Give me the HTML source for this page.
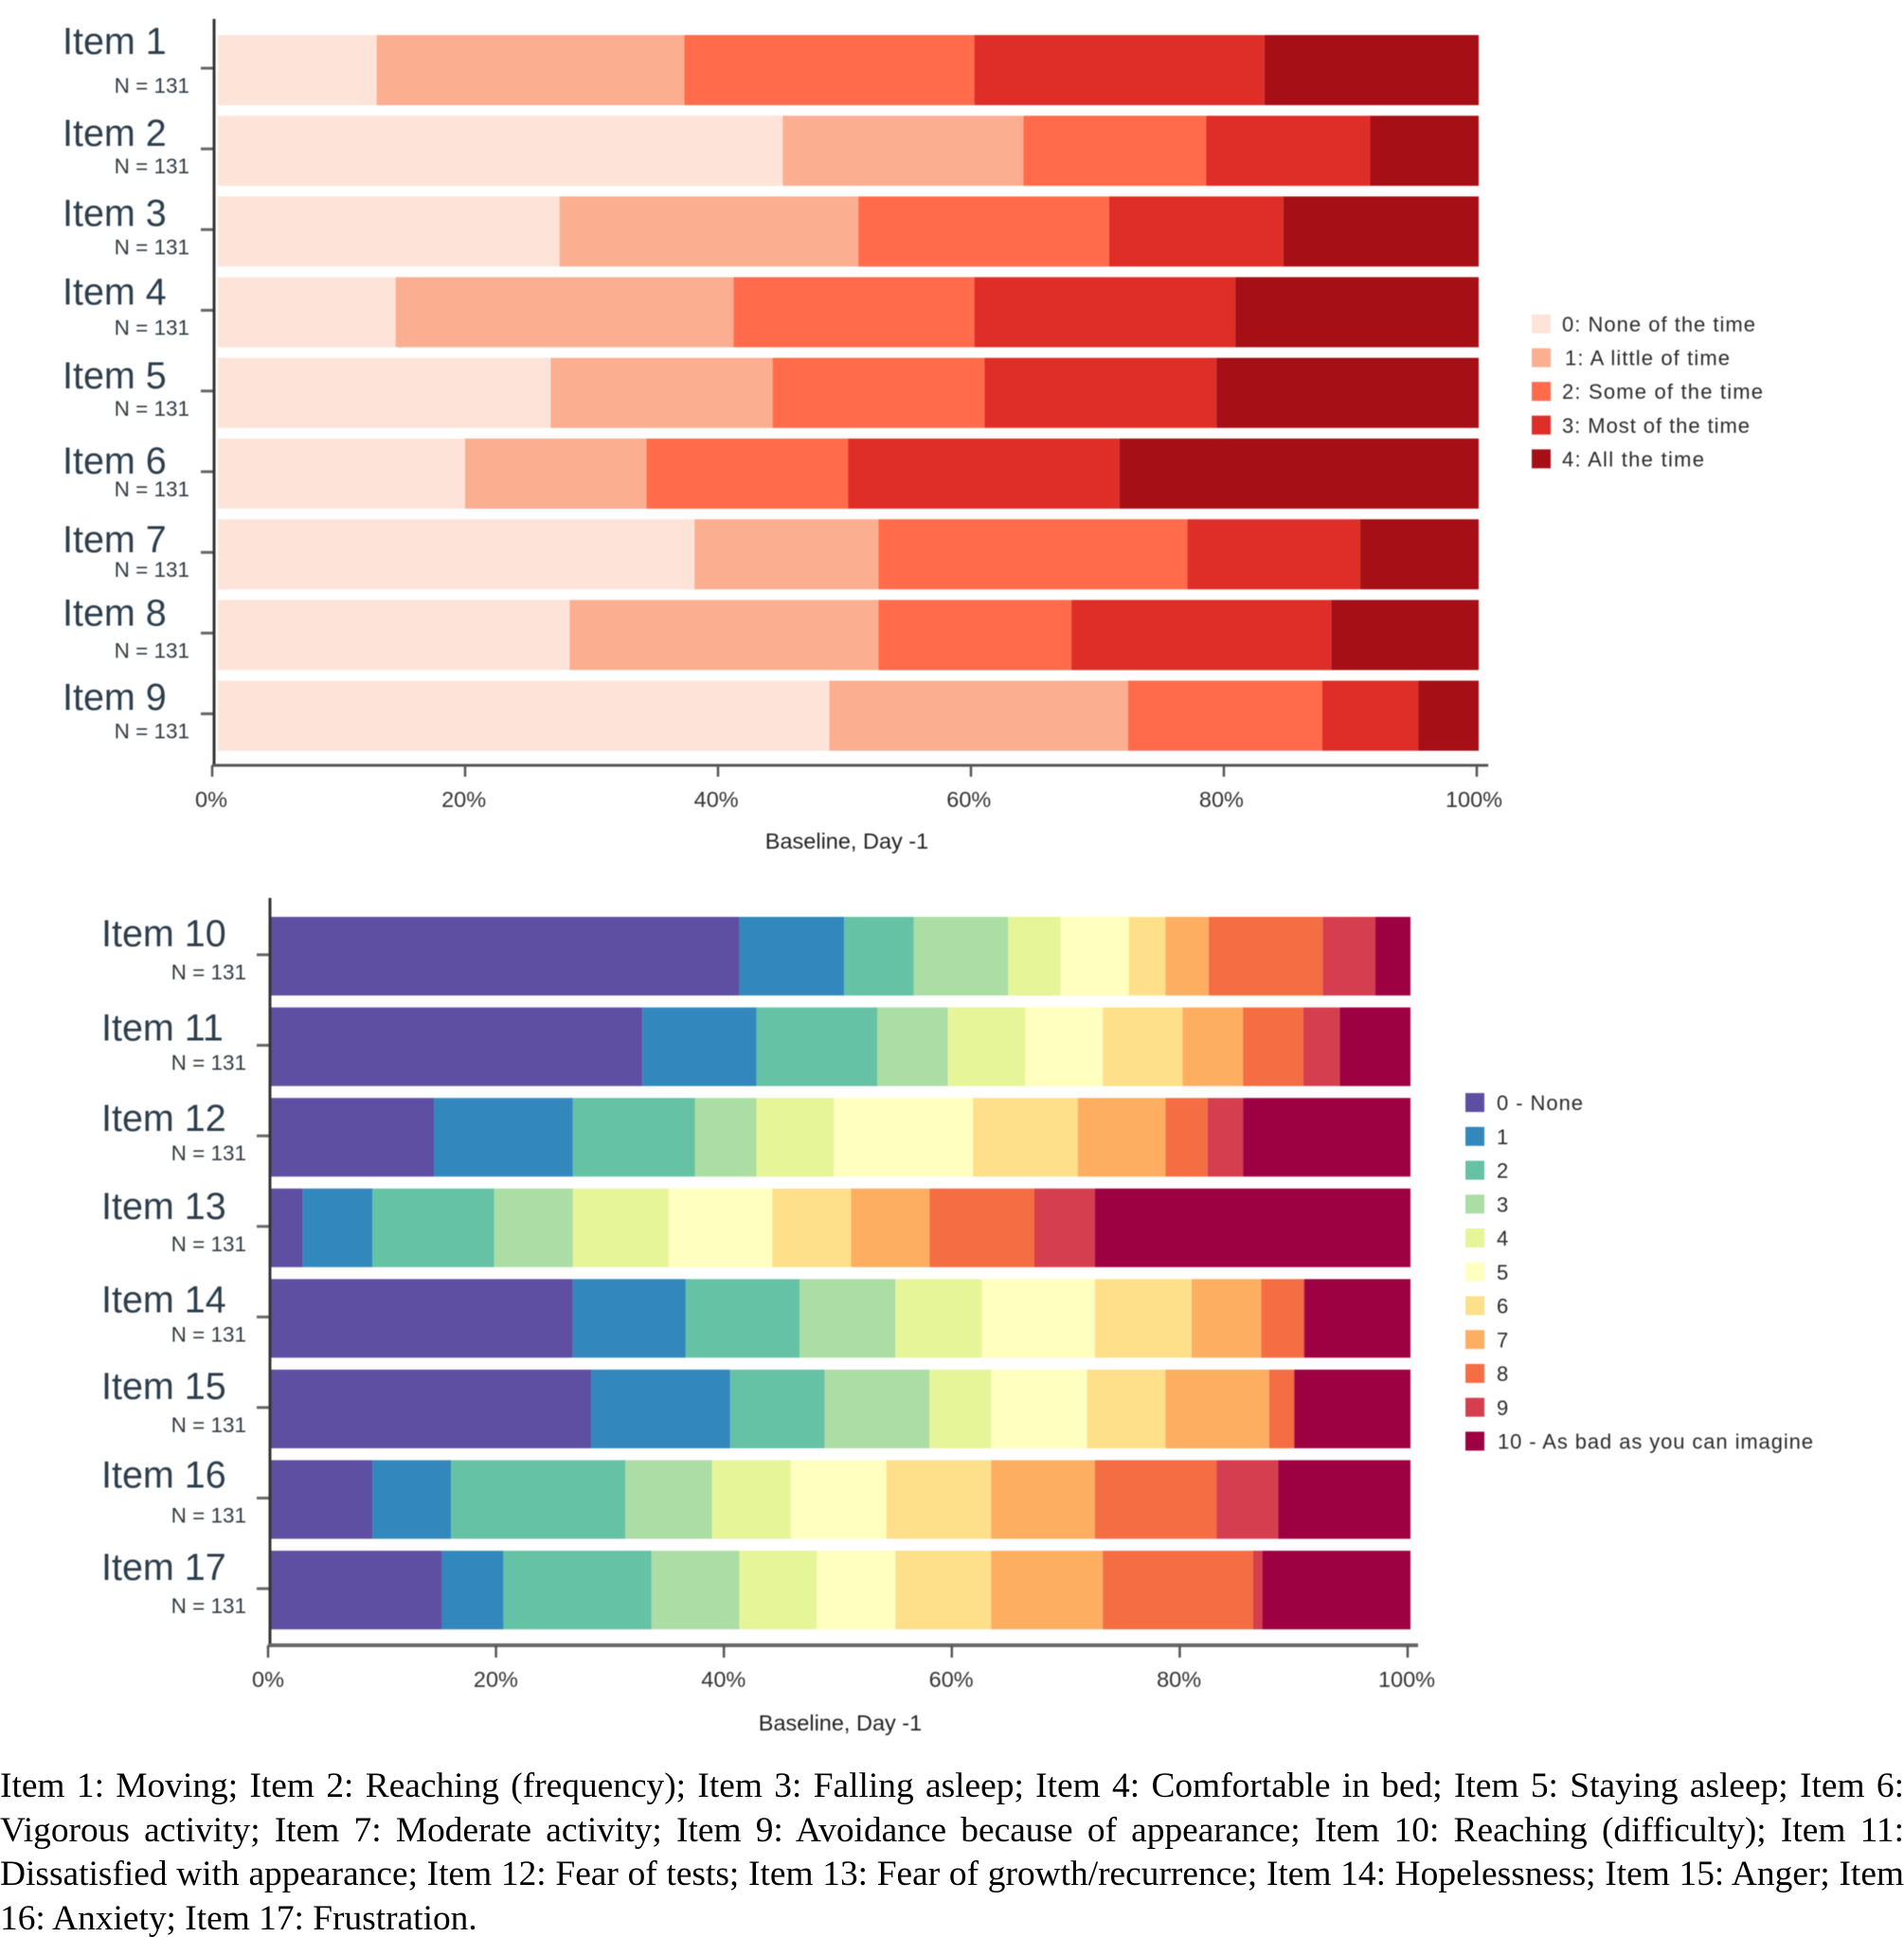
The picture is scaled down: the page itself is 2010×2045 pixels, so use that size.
<!DOCTYPE html>
<html lang="en">
<head>
<meta charset="utf-8">
<title>Baseline item response distributions</title>
<style>
  html, body { margin: 0; padding: 0; background: #fff; }
  #page { position: relative; width: 2010px; height: 2045px; overflow: hidden; background: #fff; }
  #charts { position: absolute; left: 0; top: 0; filter: blur(0.4px); }
  text { font-family: "Liberation Sans", sans-serif; }
  .cap { position: absolute; left: 0; width: 2010px; height: 46px; line-height: 46px; font-family: "Liberation Serif", serif; font-size: 37.4px; color: #000; white-space: nowrap; text-align: justify; text-align-last: justify; }
  .cap.last { text-align: left; text-align-last: left; }
</style>
</head>
<body>
<div id="page">
  <svg id="charts" width="2010" height="1860" viewBox="0 0 2010 1860" xmlns="http://www.w3.org/2000/svg"></svg>
  <div>
    <div class="cap" style="top:1863px">Item 1: Moving; Item 2: Reaching (frequency); Item 3: Falling asleep; Item 4: Comfortable in bed; Item 5: Staying asleep; Item 6:</div>
    <div class="cap" style="top:1910px">Vigorous activity; Item 7: Moderate activity; Item 9: Avoidance because of appearance; Item 10: Reaching (difficulty); Item 11:</div>
    <div class="cap" style="top:1956px">Dissatisfied with appearance; Item 12: Fear of tests; Item 13: Fear of growth/recurrence; Item 14: Hopelessness; Item 15: Anger; Item</div>
    <div class="cap last" style="top:2003px">16: Anxiety; Item 17: Frustration.</div>
  </div>
</div>
<script>
// ---- Data: top chart ----
const topCategories = ["Item 1","Item 2","Item 3","Item 4","Item 5","Item 6","Item 7","Item 8","Item 9"];
const topLegend = ["0: None of the time","1: A little of time","2: Some of the time","3: Most of the time","4: All the time"];
const topItem1 = [12.6,24.4,23.0,23.0,17.0];
const topItem2 = [44.8,19.1,14.5,13.0,8.6];
const topItem3 = [27.1,23.7,19.9,13.8,15.5];
const topItem4 = [14.1,26.8,19.1,20.7,19.3];
const topItem5 = [26.4,17.6,16.8,18.4,20.8];
const topItem6 = [19.6,14.4,16.0,21.5,28.5];
const topItem7 = [37.8,14.6,24.5,13.7,9.4];
const topItem8 = [27.9,24.5,15.3,20.6,11.7];
const topItem9 = [48.5,23.7,15.4,7.6,4.8];
const topValues = [topItem1,topItem2,topItem3,topItem4,topItem5,topItem6,topItem7,topItem8,topItem9];

// ---- Data: bottom chart ----
const bottomCategories = ["Item 10","Item 11","Item 12","Item 13","Item 14","Item 15","Item 16","Item 17"];
const bottomLegend = ["0 - None","1","2","3","4","5","6","7","8","9","10 - As bad as you can imagine"];
const bottomItem10 = [41.1,9.2,6.1,8.3,4.6,6.0,3.2,3.8,10.0,4.6,3.1];
const bottomItem11 = [32.6,10.0,10.6,6.2,6.8,6.8,7.0,5.3,5.3,3.2,6.2];
const bottomItem12 = [14.3,12.2,10.7,5.4,6.8,12.2,9.2,7.7,3.7,3.1,14.7];
const bottomItem13 = [2.8,6.1,10.7,6.9,8.4,9.1,6.9,6.9,9.2,5.3,27.7];
const bottomItem14 = [26.5,9.9,10.0,8.4,7.6,9.9,8.5,6.1,3.7,0.1,9.3];
const bottomItem15 = [28.1,12.2,8.3,9.2,5.4,8.4,6.9,9.1,2.2,0,10.2];
const bottomItem16 = [8.9,6.9,15.3,7.6,6.9,8.4,9.2,9.1,10.7,5.4,11.6];
const bottomItem17 = [15.0,5.4,13.0,7.7,6.8,6.9,8.4,9.8,13.2,0.8,13.0];
const bottomValues = [bottomItem10,bottomItem11,bottomItem12,bottomItem13,bottomItem14,bottomItem15,bottomItem16,bottomItem17];

// ---- Shared labels ----
const tickLabels = ["0%","20%","40%","60%","80%","100%"];
const tickValues = [0,20,40,60,80,100];
const sampleLabel = "N = 131";
const axisTitle = "Baseline, Day -1";

// ---- Styling and layout ----
const topColors = ["#fee4d8","#fcae91","#ff6b4b","#df2e27","#a50f15"];
const bottomColors = ["#5e4fa2","#3288bd","#66c2a5","#abdda4","#e6f598","#ffffbf","#fee08b","#fdae61","#f46d43","#d53e4f","#9e0142"];

const topLayout = {
  barX0: 230, barX1: 1561, tickX0: 224, tickX1: 1559, tickLabelX0: 223, tickLabelX1: 1556,
  bandTop: 37, bandStep: 85.2, bandHeight: 74,
  axisX: 226, axisTop: 20, axisY: 808, axisEnd: 1571, axisWidth: 3, axisColor: "#555",
  tickEnd: 820, tickLabelY: 852, titleX: 894, titleY: 896,
  labelX: 66, labelFont: 39.5, labelNudge: [20,32,31,29,32,37,35,27,31],
  sampleRight: 200, sampleDy: 61, yTickX0: 212, yTickX1: 225, yTickDy: 35,
  legendX: 1617, legendTextX: 1649, legendY: 332, legendStep: 35.6, swatch: 20, legendFont: 22,
  legendWidths: [204,174,212,198,150], legendIndent: [0,3,0,0,0],
  prefix: "top"
};
const bottomLayout = {
  barX0: 286, barX1: 1489, tickX0: 283, tickX1: 1486, tickLabelX0: 283, tickLabelX1: 1485,
  bandTop: 968, bandStep: 95.6, bandHeight: 83,
  axisX: 285, axisTop: 948, axisY: 1737, axisEnd: 1497, axisWidth: 4, axisColor: "#666",
  tickEnd: 1750, tickLabelY: 1781, titleX: 887, titleY: 1827,
  labelX: 107, labelFont: 39.5, labelNudge: [31,35,35,32,35,31,29,31],
  sampleRight: 260, sampleDy: 66, yTickX0: 271, yTickX1: 284, yTickDy: 40,
  legendX: 1547, legendTextX: 1580, legendY: 1154, legendStep: 35.75, swatch: 20, legendFont: 22,
  legendWidths: [91,0,0,0,0,0,0,0,0,0,333], legendIndent: [0,0,0,0,0,0,0,0,0,0,1],
  prefix: "bottom"
};

const svg = document.getElementById("charts");
const NS = "http://www.w3.org/2000/svg";

function mk(tag, attrs, parent) {
  const el = document.createElementNS(NS, tag);
  for (const k in attrs) el.setAttribute(k, attrs[k]);
  parent.appendChild(el);
  return el;
}

function slug(s) {
  return s.toLowerCase().replace(/[^a-z0-9]+/g, "-");
}

function drawChart(cats, values, colors, legend, L) {
  const group = mk("g", {}, svg);
  
  

  const xScale = v => L.barX0 + (v / 100) * (L.barX1 - L.barX0);
  const xTick = v => L.tickX0 + (v / 100) * (L.tickX1 - L.tickX0);
  const xTickLabel = v => L.tickLabelX0 + (v / 100) * (L.tickLabelX1 - L.tickLabelX0);
  const yBand = i => L.bandTop + i * L.bandStep;

  // bars
  cats.forEach((cat, i) => {
    let cum = 0;
    values[i].forEach((v, s) => {
      const x0 = xScale(cum);
      const x1 = xScale(cum + v);
      cum += v;
      const r = mk("rect", {x: x0, y: yBand(i), width: Math.max(0, x1 - x0), height: L.bandHeight, fill: colors[s]}, group);
      
      
    });

    const label = mk("text", {x: L.labelX, y: yBand(i) + L.labelNudge[i], "font-size": L.labelFont, fill: "#2b3d4b"}, group);
    label.textContent = cat;
    
    

    const n = mk("text", {x: L.sampleRight, y: yBand(i) + L.sampleDy, "font-size": 22.5, fill: "#2f3a42", "text-anchor": "end"}, group);
    n.textContent = sampleLabel;
    
    

    const yt = mk("line", {x1: L.yTickX0, x2: L.yTickX1, y1: yBand(i) + L.yTickDy, y2: yBand(i) + L.yTickDy, stroke: "#666", "stroke-width": 3}, group);
    
    
  });

  // axes
  const yAxis = mk("line", {x1: L.axisX, x2: L.axisX, y1: L.axisTop, y2: L.axisY, stroke: "#333", "stroke-width": 3}, group);
  
  

  const xAxis = mk("line", {x1: L.axisX - 2, x2: L.axisEnd, y1: L.axisY, y2: L.axisY, stroke: L.axisColor, "stroke-width": L.axisWidth}, group);
  
  

  tickValues.forEach((t, i) => {
    const tick = mk("line", {x1: xTick(t), x2: xTick(t), y1: L.axisY, y2: L.tickEnd, stroke: "#555", "stroke-width": 2.5}, group);
    
    

    const tl = mk("text", {x: xTickLabel(t), y: L.tickLabelY, "font-size": 23.5, fill: "#333", "text-anchor": "middle"}, group);
    tl.textContent = tickLabels[i];
    
    
  });

  const title = mk("text", {x: L.titleX, y: L.titleY, "font-size": 23.5, fill: "#222", "text-anchor": "middle"}, group);
  title.textContent = axisTitle;
  
  

  // legend
  legend.forEach((name, i) => {
    const y = L.legendY + i * L.legendStep;
    const sw = mk("rect", {x: L.legendX, y: y, width: L.swatch, height: L.swatch, fill: colors[i]}, group);
    
    

    const attrs = {x: L.legendTextX + L.legendIndent[i], y: y + 18, "font-size": L.legendFont, fill: "#2a2a2a"};
    if (L.legendWidths[i]) {
      attrs.textLength = L.legendWidths[i];
      attrs.lengthAdjust = "spacing";
    }
    const lt = mk("text", attrs, group);
    lt.textContent = name;
    
    
  });
}

drawChart(topCategories, topValues, topColors, topLegend, topLayout);
drawChart(bottomCategories, bottomValues, bottomColors, bottomLegend, bottomLayout);
</script>
</body>
</html>
